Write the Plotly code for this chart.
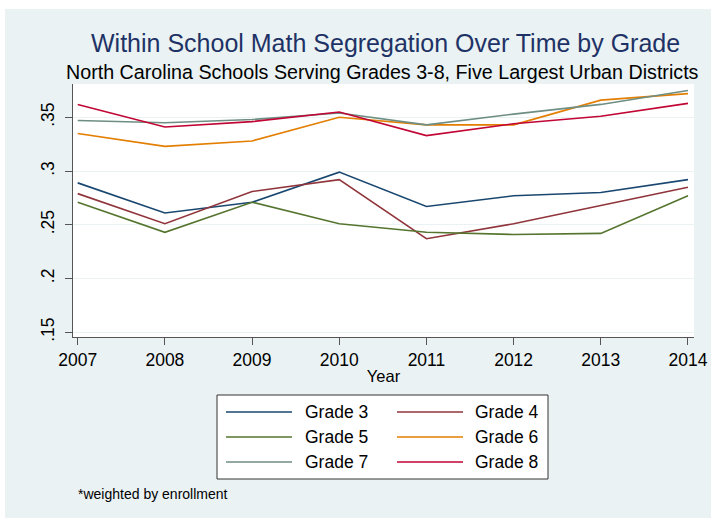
import plotly.graph_objects as go

# Segregation index by grade, 2007-2014 (weighted by enrollment)
years = [2007, 2008, 2009, 2010, 2011, 2012, 2013, 2014]
grade3 = [0.289, 0.261, 0.271, 0.299, 0.267, 0.277, 0.280, 0.292]
grade4 = [0.279, 0.251, 0.281, 0.292, 0.237, 0.251, 0.268, 0.285]
grade5 = [0.271, 0.243, 0.271, 0.251, 0.243, 0.241, 0.242, 0.277]
grade6 = [0.335, 0.323, 0.328, 0.350, 0.343, 0.343, 0.366, 0.372]
grade7 = [0.347, 0.345, 0.348, 0.354, 0.343, 0.353, 0.362, 0.375]
grade8 = [0.362, 0.341, 0.346, 0.355, 0.333, 0.344, 0.351, 0.363]

series_names = ["Grade 3", "Grade 4", "Grade 5", "Grade 6", "Grade 7", "Grade 8"]
series_values = [grade3, grade4, grade5, grade6, grade7, grade8]
series_colors = ["#1a476f", "#90353b", "#55752f", "#e37e00", "#6e8e84", "#c10534"]

y_tick_vals = [0.15, 0.2, 0.25, 0.3, 0.35]
y_tick_text = [".15", ".2", ".25", ".3", ".35"]

W, H = 711, 518
L, R, T, B = 73, 694, 84, 337  # plot area in pixels


def px_x(px):
    return (px - L) / (R - L)


def px_y(py):
    return (B - py) / (B - T)


FONT = "Liberation Sans, Arial, sans-serif"
BG = "#eaf2f3"

fig = go.Figure()
for name, vals, col in zip(series_names, series_values, series_colors):
    fig.add_trace(go.Scatter(x=years, y=vals, mode="lines", name=name,
                             line=dict(color=col, width=1.6)))

shapes = [
    # white strips around the graph region
    dict(type="rect", xref="paper", yref="paper", x0=px_x(0), x1=px_x(W),
         y0=px_y(9), y1=px_y(0), fillcolor="white", line=dict(width=0), layer="below"),
    dict(type="rect", xref="paper", yref="paper", x0=px_x(0), x1=px_x(5),
         y0=px_y(H), y1=px_y(0), fillcolor="white", line=dict(width=0), layer="below"),
    # legend box
    dict(type="rect", xref="paper", yref="paper", x0=px_x(217), x1=px_x(548),
         y0=px_y(479), y1=px_y(395), fillcolor="white",
         line=dict(color="#333333", width=1)),
]

annotations = [
    dict(text="Within School Math Segregation Over Time by Grade", xref="paper", yref="paper",
         x=px_x(385), y=px_y(43), showarrow=False, xanchor="center", yanchor="middle",
         font=dict(family=FONT, size=25, color="#1f3266")),
    dict(text="North Carolina Schools Serving Grades 3-8, Five Largest Urban Districts",
         xref="paper", yref="paper", x=px_x(382), y=px_y(72), showarrow=False,
         xanchor="center", yanchor="middle", font=dict(family=FONT, size=19.7, color="black")),
    dict(text="*weighted by enrollment", xref="paper", yref="paper", x=px_x(76), y=px_y(494),
         showarrow=False, xanchor="left", yanchor="middle",
         font=dict(family=FONT, size=14, color="black")),
]

# legend entries laid out in two columns, three rows
row_y = [412, 437, 462]
col_line = [(226, 292), (397, 463)]
col_text = [303, 473]
for i, (name, col) in enumerate(zip(series_names, series_colors)):
    r, c = divmod(i, 2)
    shapes.append(dict(type="line", xref="paper", yref="paper",
                       x0=px_x(col_line[c][0]), x1=px_x(col_line[c][1]),
                       y0=px_y(row_y[r]), y1=px_y(row_y[r]),
                       line=dict(color=col, width=1.6)))
    annotations.append(dict(text=name, xref="paper", yref="paper", x=px_x(col_text[c]),
                            y=px_y(row_y[r]), showarrow=False, xanchor="left",
                            yanchor="middle", font=dict(family=FONT, size=17.5, color="black")))

fig.update_layout(
    template="none",
    width=W, height=H, autosize=False,
    margin=dict(l=L, r=W - R, t=T, b=H - B, pad=0),
    paper_bgcolor=BG, plot_bgcolor="white",
    showlegend=False,
    shapes=shapes, annotations=annotations,
    font=dict(family=FONT, color="black"),
)

fig.update_xaxes(
    range=[2006.946, 2014.069], tickvals=years, ticktext=[str(y) for y in years],
    automargin=False,
    showgrid=False, zeroline=False, showline=True, linecolor="#555555", linewidth=1,
    ticks="outside", ticklen=7, tickcolor="#555555", tickfont=dict(size=17.5, family=FONT),
    title=dict(text="Year", font=dict(size=16.5, family=FONT), standoff=1),
)
fig.update_yaxes(
    range=[0.1456, 0.381], tickvals=y_tick_vals, ticktext=y_tick_text, tickangle=-90,
    automargin=False,
    showgrid=True, gridcolor=BG, gridwidth=1.2, zeroline=False,
    showline=True, linecolor="#555555", linewidth=1,
    ticks="outside", ticklen=7, tickcolor="#555555", tickfont=dict(size=17.5, family=FONT),
    ticklabelstandoff=4,
)

fig.write_html("out.html", config={"responsive": False})
